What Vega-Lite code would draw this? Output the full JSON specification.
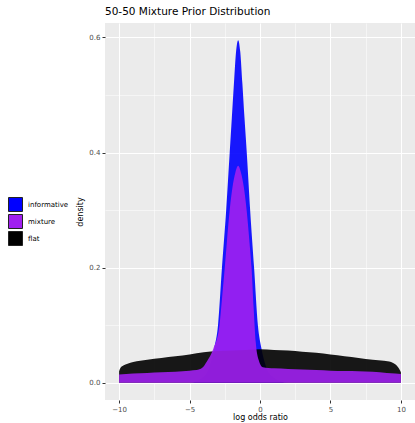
{
  "$schema": "https://vega.github.io/schema/vega-lite/v6.json",
  "width": 310,
  "height": 377,
  "padding": {"left": 8, "top": 6, "right": 0, "bottom": 2},
  "background": "white",
  "title": {"text": "50-50 Mixture Prior Distribution", "anchor": "start", "frame": "group", "fontSize": 10.5, "fontWeight": "normal", "font": "DejaVu Sans", "color": "black", "offset": 6},
  "config": {
    "view": {"fill": "#EBEBEB", "stroke": null},
    "font": "DejaVu Sans"
  },
  "data": {"values": [
    {"prior": "flat", "x": -10, "d": 0.02},
    {"prior": "flat", "x": -9.9, "d": 0.026},
    {"prior": "flat", "x": -9.7, "d": 0.030},
    {"prior": "flat", "x": -9.4, "d": 0.033},
    {"prior": "flat", "x": -9, "d": 0.036},
    {"prior": "flat", "x": -8, "d": 0.040},
    {"prior": "flat", "x": -7, "d": 0.043},
    {"prior": "flat", "x": -6, "d": 0.046},
    {"prior": "flat", "x": -5, "d": 0.049},
    {"prior": "flat", "x": -4, "d": 0.053},
    {"prior": "flat", "x": -3, "d": 0.055},
    {"prior": "flat", "x": -2, "d": 0.056},
    {"prior": "flat", "x": -1, "d": 0.057},
    {"prior": "flat", "x": 0, "d": 0.058},
    {"prior": "flat", "x": 1, "d": 0.057},
    {"prior": "flat", "x": 2, "d": 0.056},
    {"prior": "flat", "x": 3, "d": 0.054},
    {"prior": "flat", "x": 4, "d": 0.052},
    {"prior": "flat", "x": 5, "d": 0.049},
    {"prior": "flat", "x": 6, "d": 0.046},
    {"prior": "flat", "x": 7, "d": 0.043},
    {"prior": "flat", "x": 8, "d": 0.040},
    {"prior": "flat", "x": 8.8, "d": 0.038},
    {"prior": "flat", "x": 9.3, "d": 0.036},
    {"prior": "flat", "x": 9.6, "d": 0.032},
    {"prior": "flat", "x": 9.8, "d": 0.027},
    {"prior": "flat", "x": 9.95, "d": 0.021},
    {"prior": "flat", "x": 10, "d": 0.018},

    {"prior": "informative", "x": -10, "d": 0},
    {"prior": "informative", "x": -5, "d": 0},
    {"prior": "informative", "x": -4.0, "d": 0.01},
    {"prior": "informative", "x": -3.55, "d": 0.03},
    {"prior": "informative", "x": -3.25, "d": 0.06},
    {"prior": "informative", "x": -2.98, "d": 0.1},
    {"prior": "informative", "x": -2.7, "d": 0.2},
    {"prior": "informative", "x": -2.4, "d": 0.3},
    {"prior": "informative", "x": -2.15, "d": 0.4},
    {"prior": "informative", "x": -2.0, "d": 0.46},
    {"prior": "informative", "x": -1.85, "d": 0.52},
    {"prior": "informative", "x": -1.7, "d": 0.575},
    {"prior": "informative", "x": -1.55, "d": 0.595},
    {"prior": "informative", "x": -1.4, "d": 0.575},
    {"prior": "informative", "x": -1.25, "d": 0.52},
    {"prior": "informative", "x": -1.1, "d": 0.46},
    {"prior": "informative", "x": -0.94, "d": 0.4},
    {"prior": "informative", "x": -0.7, "d": 0.3},
    {"prior": "informative", "x": -0.42, "d": 0.2},
    {"prior": "informative", "x": -0.15, "d": 0.1},
    {"prior": "informative", "x": 0.1, "d": 0.06},
    {"prior": "informative", "x": 0.4, "d": 0.03},
    {"prior": "informative", "x": 0.9, "d": 0.01},
    {"prior": "informative", "x": 2, "d": 0},
    {"prior": "informative", "x": 10, "d": 0},

    {"prior": "mixture", "x": -10, "d": 0.0145},
    {"prior": "mixture", "x": -9, "d": 0.016},
    {"prior": "mixture", "x": -8, "d": 0.017},
    {"prior": "mixture", "x": -7, "d": 0.018},
    {"prior": "mixture", "x": -6, "d": 0.019},
    {"prior": "mixture", "x": -5, "d": 0.021},
    {"prior": "mixture", "x": -4.5, "d": 0.022},
    {"prior": "mixture", "x": -4.1, "d": 0.026},
    {"prior": "mixture", "x": -3.77, "d": 0.037},
    {"prior": "mixture", "x": -3.3, "d": 0.06},
    {"prior": "mixture", "x": -2.9, "d": 0.095},
    {"prior": "mixture", "x": -2.7, "d": 0.145},
    {"prior": "mixture", "x": -2.5, "d": 0.2},
    {"prior": "mixture", "x": -2.35, "d": 0.245},
    {"prior": "mixture", "x": -2.15, "d": 0.3},
    {"prior": "mixture", "x": -1.95, "d": 0.34},
    {"prior": "mixture", "x": -1.75, "d": 0.365},
    {"prior": "mixture", "x": -1.55, "d": 0.377},
    {"prior": "mixture", "x": -1.35, "d": 0.365},
    {"prior": "mixture", "x": -1.15, "d": 0.34},
    {"prior": "mixture", "x": -0.95, "d": 0.3},
    {"prior": "mixture", "x": -0.75, "d": 0.245},
    {"prior": "mixture", "x": -0.6, "d": 0.2},
    {"prior": "mixture", "x": -0.45, "d": 0.13},
    {"prior": "mixture", "x": -0.3, "d": 0.07},
    {"prior": "mixture", "x": -0.1, "d": 0.04},
    {"prior": "mixture", "x": 0.2, "d": 0.027},
    {"prior": "mixture", "x": 1, "d": 0.025},
    {"prior": "mixture", "x": 2, "d": 0.024},
    {"prior": "mixture", "x": 3, "d": 0.023},
    {"prior": "mixture", "x": 4, "d": 0.022},
    {"prior": "mixture", "x": 5, "d": 0.021},
    {"prior": "mixture", "x": 6, "d": 0.0205},
    {"prior": "mixture", "x": 7, "d": 0.02},
    {"prior": "mixture", "x": 8, "d": 0.019},
    {"prior": "mixture", "x": 9, "d": 0.017},
    {"prior": "mixture", "x": 9.6, "d": 0.016},
    {"prior": "mixture", "x": 10, "d": 0.015}
  ]},
  "encoding": {
    "x": {"field": "x", "type": "quantitative",
      "scale": {"domain": [-11, 11], "nice": false, "zero": false},
      "axis": {"title": "log odds ratio", "values": [-10, -7.5, -5, -2.5, 0, 2.5, 5, 7.5, 10],
        "labelExpr": "datum.value % 5 == 0 ? datum.label : ''",
        "tickSize": {"condition": {"test": "datum.value % 5 != 0", "value": 0}, "value": 3},
        "gridWidth": {"condition": {"test": "datum.value % 5 != 0", "value": 0.5}, "value": 1},
        "gridColor": "white", "domain": false, "tickColor": "#333333",
        "labelColor": "#4D4D4D", "labelFontSize": 7, "labelPadding": 2,
        "titleFontSize": 8, "titleFontWeight": "normal", "titleColor": "black", "titlePadding": 1}},
    "y": {"field": "d", "type": "quantitative", "stack": null,
      "scale": {"domain": [-0.03, 0.625], "nice": false, "zero": false},
      "axis": {"title": "density", "values": [0, 0.1, 0.2, 0.3, 0.4, 0.5, 0.6],
        "labelExpr": "(round(datum.value*10) % 2 == 0) ? format(datum.value, '.1f') : ''",
        "tickSize": {"condition": {"test": "round(datum.value*10) % 2 != 0", "value": 0}, "value": 3},
        "gridWidth": {"condition": {"test": "round(datum.value*10) % 2 != 0", "value": 0.5}, "value": 1},
        "gridColor": "white", "domain": false, "tickColor": "#333333",
        "labelColor": "#4D4D4D", "labelFontSize": 7, "labelPadding": 2,
        "titleFontSize": 8, "titleFontWeight": "normal", "titleColor": "black", "titlePadding": 4}},
    "color": {"field": "prior", "type": "nominal",
      "scale": {"domain": ["informative", "mixture", "flat"], "range": ["#0000FF", "#A020F0", "#000000"]},
      "legend": {"title": null, "orient": "none", "legendX": -97, "legendY": 174,
        "symbolType": "square", "symbolSize": 196, "symbolStrokeColor": "#222222", "symbolStrokeWidth": 1,
        "symbolOpacity": 1, "labelFontSize": 7, "labelColor": "black", "rowPadding": -5, "labelOffset": 5}}
  },
  "layer": [
    {"transform": [{"filter": "datum.prior == 'informative'"}], "mark": {"type": "area", "interpolate": "monotone", "opacity": 0.9}},
    {"transform": [{"filter": "datum.prior == 'flat'"}], "mark": {"type": "area", "interpolate": "monotone", "opacity": 0.9}},
    {"transform": [{"filter": "datum.prior == 'mixture'"}], "mark": {"type": "area", "interpolate": "monotone", "opacity": 0.9}}
  ]
}
